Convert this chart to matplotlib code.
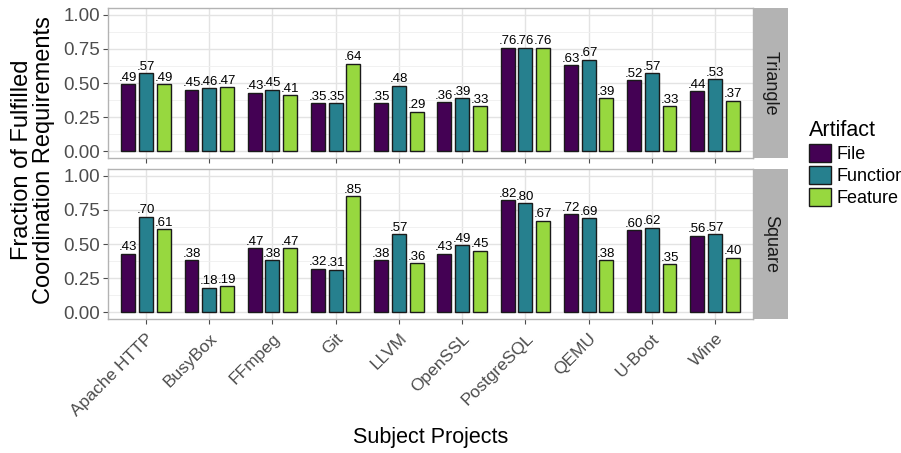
import numpy as np
import matplotlib
matplotlib.use("Agg")
import matplotlib.pyplot as plt
from matplotlib.patches import Patch

plt.rcParams['font.family'] = ['Liberation Sans', 'DejaVu Sans']

projects = ["Apache HTTP", "BusyBox", "FFmpeg", "Git", "LLVM",
            "OpenSSL", "PostgreSQL", "QEMU", "U-Boot", "Wine"]
artifacts = ["File", "Function", "Feature"]
colors = ["#440154", "#26808E", "#97D83F"]

# fraction of fulfilled coordination requirements per motif
triangle_file = [0.49, 0.45, 0.43, 0.35, 0.35, 0.36, 0.76, 0.63, 0.52, 0.44]
triangle_function = [0.57, 0.46, 0.45, 0.35, 0.48, 0.39, 0.76, 0.67, 0.57, 0.53]
triangle_feature = [0.49, 0.47, 0.41, 0.64, 0.29, 0.33, 0.76, 0.39, 0.33, 0.37]

square_file = [0.43, 0.38, 0.47, 0.32, 0.38, 0.43, 0.82, 0.72, 0.60, 0.56]
square_function = [0.70, 0.18, 0.38, 0.31, 0.57, 0.49, 0.80, 0.69, 0.62, 0.57]
square_feature = [0.61, 0.19, 0.47, 0.85, 0.36, 0.45, 0.67, 0.38, 0.35, 0.40]

facets = [
    ("Triangle", [triangle_file, triangle_function, triangle_feature]),
    ("Square", [square_file, square_function, square_feature]),
]

W, H = 901, 453
fig = plt.figure(figsize=(W / 100, H / 100), dpi=100)

left, right = 108, 753
strip_w = 35
panels = [(8, 158), (169, 319)]

x = np.arange(1, len(projects) + 1)
bar_w = 0.22
offset = 0.28

for (name, series), (top, bottom) in zip(facets, panels):
    ax = fig.add_axes([left / W, 1 - bottom / H, (right - left) / W, (bottom - top) / H])
    ax.set_facecolor("white")
    ax.set_xlim(0.4, len(projects) + 0.6)
    ax.set_ylim(-0.05, 1.05)

    ax.set_yticks([0, 0.25, 0.5, 0.75, 1.0])
    ax.set_yticks([0.125, 0.375, 0.625, 0.875], minor=True)
    ax.set_yticklabels(["0.00", "0.25", "0.50", "0.75", "1.00"])
    ax.set_xticks(x)
    ax.grid(True, which="major", color="#E3E3E3", linewidth=1.0)
    ax.grid(True, which="minor", axis="y", color="#EFEFEF", linewidth=0.6)
    ax.set_axisbelow(True)
    ax.tick_params(axis="both", which="major", length=3.5, width=0.8,
                   color="#4D4D4D", labelcolor="#4D4D4D", pad=2)
    ax.tick_params(axis="y", labelsize=13.5)
    ax.tick_params(axis="x", labelsize=12.5, pad=5)
    ax.tick_params(axis="both", which="minor", length=0)
    for sp in ax.spines.values():
        sp.set_color("#B3B3B3")
        sp.set_linewidth(1.0)

    for i, vals in enumerate(series):
        pos = x + (i - 1) * offset
        bars = ax.bar(pos, vals, width=bar_w, color=colors[i],
                      edgecolor="#1A1A1A", linewidth=1.0, zorder=3)
        for b, v in zip(bars, vals):
            ax.text(b.get_x() + b.get_width() / 2, v + 0.003,
                    f"{v:.2f}".lstrip("0"), ha="center", va="bottom",
                    fontsize=9.5, color="black", zorder=4)

    if bottom == panels[-1][1]:
        ax.set_xticklabels(projects, rotation=45, ha="right",
                           rotation_mode="anchor")
    else:
        ax.set_xticklabels([])

    # facet strip on the right
    sax = fig.add_axes([right / W, 1 - bottom / H, strip_w / W, (bottom - top) / H])
    sax.set_facecolor("#B3B3B3")
    sax.set_xticks([])
    sax.set_yticks([])
    for sp in sax.spines.values():
        sp.set_visible(False)
    sax.text(0.5, 0.5, name, rotation=-90, ha="center", va="center",
             fontsize=13, color="#1A1A1A", transform=sax.transAxes)

fig.text(33 / W, 1 - 160 / H, "Fraction of Fulfilled\nCoordination Requirements",
         rotation=90, ha="center", va="center", fontsize=17, linespacing=1.05)
fig.text((left + right) / 2 / W, 1 - 437 / H, "Subject Projects",
         ha="center", va="center", fontsize=15.5)

handles = [Patch(facecolor=c, edgecolor="#1A1A1A", linewidth=1.0) for c in colors]
fig.legend(handles, artifacts, title="Artifact", loc="upper left",
           bbox_to_anchor=(809 / W, 1 - 120 / H), frameon=False,
           fontsize=13, title_fontsize=15.5, handlelength=1.2, handleheight=1.2,
           handletextpad=0.3, labelspacing=0.15, borderpad=0, borderaxespad=0,
           alignment="left")

fig.savefig("out.png", dpi=100)
